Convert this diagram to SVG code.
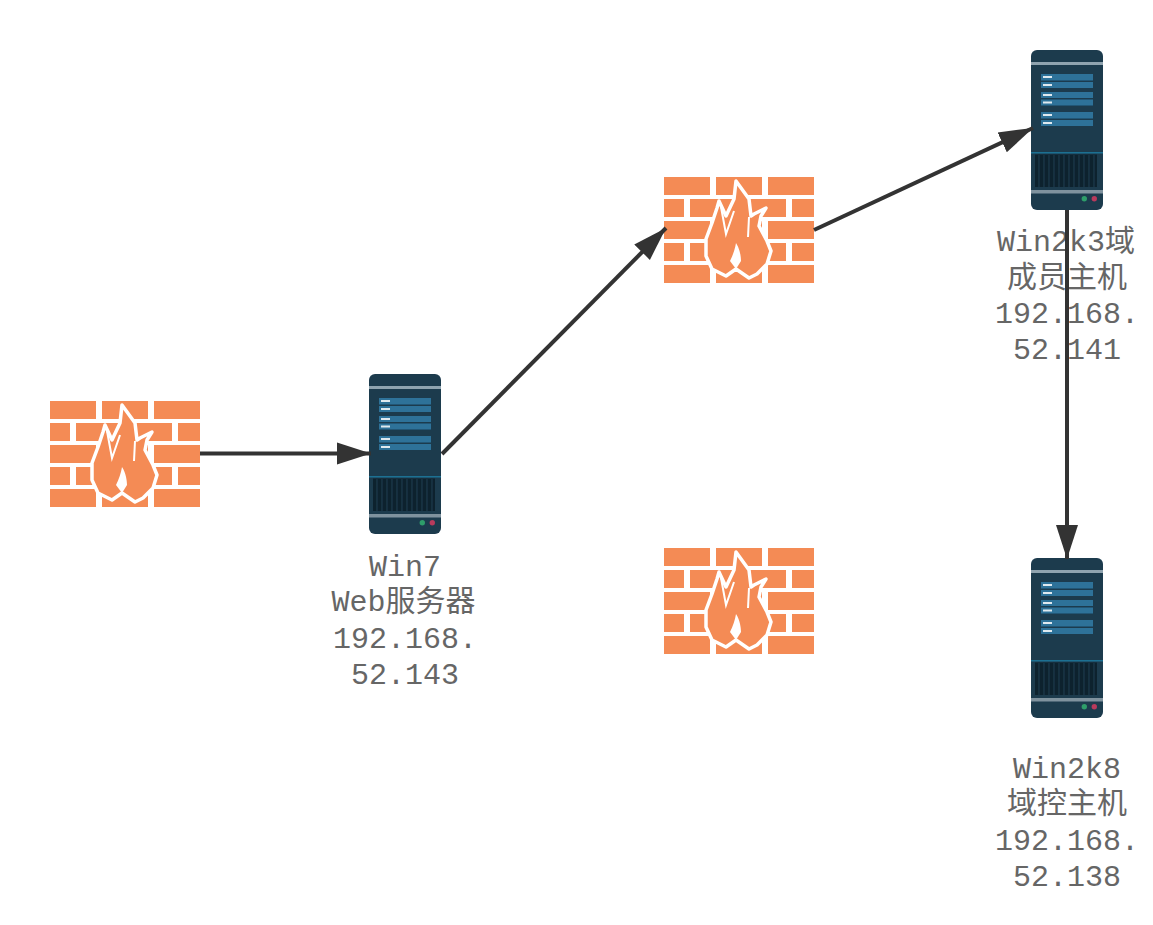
<svg xmlns="http://www.w3.org/2000/svg" xmlns:xlink="http://www.w3.org/1999/xlink" width="1153" height="925" viewBox="0 0 1153 925">
<style>
text{font-family:"Liberation Mono","Noto Sans CJK SC",monospace;font-size:30px;fill:#666;text-anchor:middle}
.edge{stroke:#333;stroke-width:4;fill:none;marker-end:url(#head)}
.b{fill:#f48b55}
.p{fill:#2d7299}
.m{fill:#dfe9ef}
</style>
<defs>
<filter id="soft" x="-5%" y="-5%" width="110%" height="110%"><feGaussianBlur stdDeviation="0.5"/></filter>
<marker id="head" markerUnits="userSpaceOnUse" markerWidth="36" markerHeight="24" refX="34" refY="12" orient="auto"><path d="M0 1L34 12L0 23Z" fill="#333"/></marker>
<symbol id="firewall" width="150" height="106" viewBox="0 0 150 106">
<g filter="url(#soft)">
<g class="b">
<rect x="0" y="0" width="46" height="18"/><rect x="52" y="0" width="46" height="18"/><rect x="104" y="0" width="46" height="18"/>
<rect x="0" y="22" width="20" height="18"/><rect x="26" y="22" width="46" height="18"/><rect x="78" y="22" width="44" height="18"/><rect x="128" y="22" width="22" height="18"/>
<rect x="0" y="44" width="46" height="18"/><rect x="52" y="44" width="46" height="18"/><rect x="104" y="44" width="46" height="18"/>
<rect x="0" y="66" width="20" height="18"/><rect x="26" y="66" width="46" height="18"/><rect x="78" y="66" width="44" height="18"/><rect x="128" y="66" width="22" height="18"/>
<rect x="0" y="88" width="46" height="18"/><rect x="52" y="88" width="46" height="18"/><rect x="104" y="88" width="46" height="18"/>
</g>
<path d="M72 4L85 22L87 39L90 37L102 31L97 39L95 49L103 64L107 74L103 87L93 97L85 101L72 92L62 99L48 92L42 79L42 62L48 46L53 31L55 24L62 39L70 22Z" class="b" stroke="#fff" stroke-width="3.500" stroke-linejoin="round"/>
<path d="M57 30L62 57L70 34M84 60L85 40" fill="none" stroke="#fff" stroke-width="2"/>
<path d="M72 66C76 72 77 80 77 84L72 92L66 84C69 78 71 72 72 66Z" fill="#fff"/>
</g>
</symbol>
<symbol id="server" width="72" height="160" viewBox="0 0 72 160">
<g filter="url(#soft)">
<rect width="72" height="160" rx="6" fill="#1c3a4e"/>
<rect x="0" y="12" width="72" height="3" fill="#8fa3af"/>
<rect x="10" y="24" width="52" height="6.5" class="p"/><rect x="10" y="32" width="52" height="6" class="p"/>
<rect x="10" y="42" width="52" height="6" class="p"/><rect x="10" y="49.5" width="52" height="6" class="p"/>
<rect x="10" y="62" width="52" height="6.5" class="p"/><rect x="10" y="70" width="52" height="6" class="p"/>
<rect x="12" y="26" width="9" height="2" class="m"/><rect x="12" y="34" width="9" height="2" class="m"/>
<rect x="12" y="44" width="9" height="2" class="m"/><rect x="12" y="51.5" width="9" height="2" class="m"/>
<rect x="12" y="64" width="9" height="2" class="m"/><rect x="12" y="72" width="9" height="2" class="m"/>
<rect x="0" y="102" width="72" height="1.5" fill="#1f6f92"/>
<rect x="4" y="104.5" width="62" height="32.5" fill="#10222f"/>
<path d="M8 105V137M13 105V137M18 105V137M23 105V137M28 105V137M33 105V137M38 105V137M43 105V137M48 105V137M53 105V137M58 105V137M63 105V137" stroke="#1c3a4e" stroke-width="1.2"/>
<rect x="0" y="140" width="72" height="3.5" fill="#7f929e"/>
<circle cx="53.300" cy="148.700" r="2.700" fill="#2f9e6a"/><circle cx="63.300" cy="148.700" r="2.700" fill="#b83a5c"/>
</g>
</symbol>
</defs>
<rect width="1153" height="925" fill="#fff"/>
<g id="firewall-1"><use xlink:href="#firewall" href="#firewall" x="50" y="401"/></g>
<g id="firewall-2"><use xlink:href="#firewall" href="#firewall" x="664" y="177"/></g>
<g id="firewall-3"><use xlink:href="#firewall" href="#firewall" x="664" y="548"/></g>
<g id="win7"><use xlink:href="#server" href="#server" x="369" y="374"/>
<text x="405" y="576">Win7</text><text x="403.500" y="611">Web服务器</text><text x="405" y="648">192.168.</text><text x="405" y="684">52.143</text></g>
<g id="win2k3"><use xlink:href="#server" href="#server" x="1031" y="50"/>
<text x="1066" y="251">Win2k3域</text><text x="1067" y="287">成员主机</text><text x="1067" y="323">192.168.</text><text x="1067" y="359">52.141</text></g>
<g id="win2k8"><use xlink:href="#server" href="#server" x="1031" y="558"/>
<text x="1067" y="778">Win2k8</text><text x="1067" y="813">域控主机</text><text x="1067" y="850">192.168.</text><text x="1067" y="886">52.138</text></g>
<g id="connectors">
<path class="edge" d="M200 453.500H371"/>
<path class="edge" d="M442 454L666 228"/>
<path class="edge" d="M814 230L1033 128"/>
<path class="edge" d="M1067 210V559"/>
</g>
</svg>
